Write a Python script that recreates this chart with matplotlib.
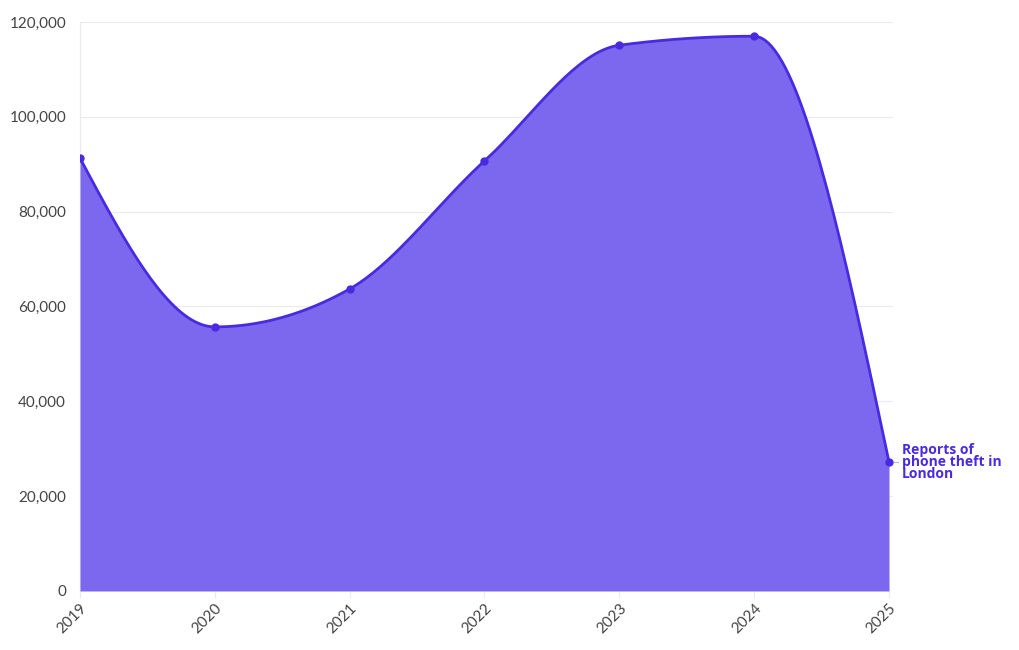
import matplotlib
matplotlib.use("Agg")
import matplotlib.pyplot as plt
import numpy as np

years = [2019, 2020, 2021, 2022, 2023, 2024, 2025]
thefts = [91300, 55700, 63700, 90700, 115100, 117000, 27200]
series_label = "Reports of\nphone theft in\nLondon"
y_ticks = [0, 20000, 40000, 60000, 80000, 100000, 120000]

fill_color = "#7b68ee"
line_color = "#4a2ae0"
grid_color = "#ebebeb"
text_color = "#444444"


def monotone_x(xs, ys, steps=40):
    # d3 curveMonotoneX style smoothing between the data points
    xs = np.asarray(xs, float)
    ys = np.asarray(ys, float)
    n = len(xs)
    h = np.diff(xs)
    s = np.diff(ys) / h
    t = np.zeros(n)
    for i in range(1, n - 1):
        p = (s[i - 1] * h[i] + s[i] * h[i - 1]) / (h[i - 1] + h[i])
        t[i] = (np.sign(s[i - 1]) + np.sign(s[i])) * min(abs(s[i - 1]), abs(s[i]), 0.5 * abs(p))
    t[0] = (3 * s[0] - t[1]) / 2
    t[-1] = (3 * s[-1] - t[-2]) / 2
    out_x, out_y = [], []
    for i in range(n - 1):
        u = np.linspace(0, 1, steps, endpoint=(i == n - 2))
        h00 = 2 * u**3 - 3 * u**2 + 1
        h10 = u**3 - 2 * u**2 + u
        h01 = -2 * u**3 + 3 * u**2
        h11 = u**3 - u**2
        out_x.append(xs[i] + u * h[i])
        out_y.append(h00 * ys[i] + h10 * h[i] * t[i] + h01 * ys[i + 1] + h11 * h[i] * t[i + 1])
    return np.concatenate(out_x), np.concatenate(out_y)


plt.rcParams["font.family"] = ["Lato", "DejaVu Sans"]

fig = plt.figure(figsize=(10.2, 6.5), dpi=100)
ax = fig.add_axes([80 / 1020, 1 - 591 / 650, (893 - 80) / 1020, (591 - 22) / 650])

cx, cy = monotone_x(years, thefts)
ax.fill_between(cx, 0, cy, color=fill_color, linewidth=0, zorder=2)
ax.plot(cx, cy, color=line_color, linewidth=2.0, zorder=3, solid_capstyle="round")
ax.plot(years, thefts, "o", color=line_color, markersize=5, zorder=4)

ax.set_xlim(2019, 2025 + 4 / 134.8)
ax.set_ylim(0, 120000)
ax.set_yticks(y_ticks)
ax.set_yticklabels([f"{v:,}" for v in y_ticks])
ax.set_xticks(years)
ax.set_xticklabels([str(y) for y in years], rotation=45, ha="right", va="top",
                   rotation_mode="anchor")

ax.grid(axis="y", color=grid_color, linewidth=0.8, zorder=0)
for side in ["top", "right", "bottom"]:
    ax.spines[side].set_visible(False)
ax.spines["left"].set_color(grid_color)
ax.spines["left"].set_zorder(1)
ax.tick_params(axis="y", length=0, pad=10, labelsize=11, labelcolor=text_color)
ax.tick_params(axis="x", length=5, color=grid_color, pad=2, labelsize=11,
               labelcolor=text_color)

ax.annotate(series_label, xy=(years[-1], thefts[-1]), xytext=(9.5, 0),
            textcoords="offset points", ha="left", va="center",
            fontsize=10, fontweight="bold", color=line_color,
            linespacing=0.8, family=["Open Sans", "DejaVu Sans"],
            annotation_clip=False)
ax.plot([years[-1] + 5 / 134.8, years[-1] + 9 / 134.8], [thefts[-1]] * 2,
        color="#bbbbbb", linewidth=0.8, clip_on=False, zorder=1)

fig.savefig("out.png", dpi=100, facecolor="white")
